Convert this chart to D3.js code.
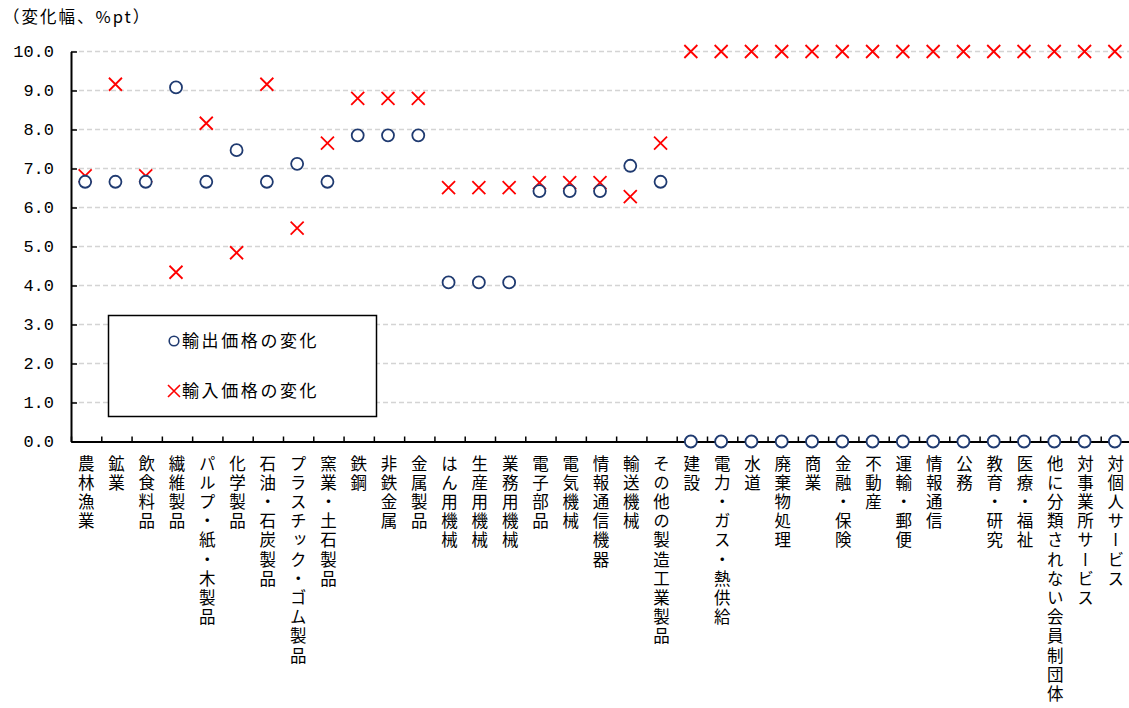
<!DOCTYPE html>
<html>
<head>
<meta charset="utf-8">
<script src="https://cdn.jsdelivr.net/npm/d3@7"></script>
<style>
  html, body { margin: 0; padding: 0; background: #fff; }
  svg { display: block; font-family: "Noto Sans CJK JP", "Noto Sans", sans-serif; }
</style>
</head>
<body>
<svg id="chart" width="1129" height="708"></svg>
<script>
// Industry sectors (x categories)
const categories = [
  "農林漁業", "鉱業", "飲食料品", "繊維製品", "パルプ・紙・木製品", "化学製品",
  "石油・石炭製品", "プラスチック・ゴム製品", "窯業・土石製品", "鉄鋼", "非鉄金属",
  "金属製品", "はん用機械", "生産用機械", "業務用機械", "電子部品", "電気機械",
  "情報通信機器", "輸送機械", "その他の製造工業製品", "建設", "電力・ガス・熱供給",
  "水道", "廃棄物処理", "商業", "金融・保険", "不動産", "運輸・郵便", "情報通信",
  "公務", "教育・研究", "医療・福祉", "他に分類されない会員制団体", "対事業所サービス",
  "対個人サービス"
];

// Change due to export prices (%pt)
const exportChange = [
  6.66, 6.66, 6.66, 9.08, 6.66, 7.47, 6.66, 7.12, 6.66, 7.85, 7.85, 7.85,
  4.08, 4.08, 4.08, 6.42, 6.42, 6.42, 7.07, 6.66,
  0, 0, 0, 0, 0, 0, 0, 0, 0, 0, 0, 0, 0, 0, 0
];

// Change due to import prices (%pt)
const importChange = [
  6.81, 9.16, 6.81, 4.34, 8.16, 4.84, 9.16, 5.47, 7.65, 8.80, 8.80, 8.80,
  6.51, 6.51, 6.51, 6.64, 6.64, 6.64, 6.28, 7.65,
  10, 10, 10, 10, 10, 10, 10, 10, 10, 10, 10, 10, 10, 10, 10
];

const yTicks = [0, 1, 2, 3, 4, 5, 6, 7, 8, 9, 10];
const seriesNames = ["輸出価格の変化", "輸入価格の変化"];
const yTitle = "（変化幅、%pt）";

const svg = d3.select("#chart");
const plotLeft = 71, plotRight = 1131, plotTop = 51.5, plotBottom = 441.5;

const x = d3.scaleBand().domain(categories).range([plotLeft, plotRight]).paddingInner(0).paddingOuter(0);
const y = d3.scaleLinear().domain([0, 10]).range([plotBottom, plotTop]);

// Horizontal dashed gridlines
svg.append("g")
  .selectAll("line")
  .data(yTicks.filter(d => d > 0))
  .join("line")
  .attr("x1", plotLeft).attr("x2", 1129)
  .attr("y1", d => y(d)).attr("y2", d => y(d))
  .attr("stroke", "#d4d4d4")
  .attr("stroke-width", 1.3)
  .attr("stroke-dasharray", "5,3");

// Y axis
const yAxis = svg.append("g")
  .attr("transform", `translate(${plotLeft},0)`)
  .call(d3.axisLeft(y).tickValues(yTicks).tickFormat(d3.format(".1f")).tickSizeInner(-6).tickSizeOuter(0).tickPadding(17));
yAxis.select(".domain").attr("stroke", "#000").attr("stroke-width", 2);
yAxis.selectAll(".tick line").attr("stroke", "#000").attr("stroke-width", 1.5);
yAxis.selectAll(".tick text")
  .attr("font-family", "'Liberation Mono', 'DejaVu Sans Mono', monospace")
  .attr("font-size", 17)
  .attr("fill", "#000");

// X axis with ticks on category boundaries
const xb = d3.scaleLinear().domain([0, categories.length]).range([plotLeft, plotRight]);
const xAxis = svg.append("g")
  .attr("transform", `translate(0,${plotBottom})`)
  .call(d3.axisBottom(xb).tickValues(d3.range(0, categories.length + 1)).tickFormat("").tickSizeInner(-5).tickSizeOuter(0));
xAxis.select(".domain").attr("stroke", "#000").attr("stroke-width", 2);
xAxis.selectAll(".tick line").attr("stroke", "#000").attr("stroke-width", 1.5);

// Vertical category labels
svg.append("g")
  .selectAll("text")
  .data(categories)
  .join("text")
  .attr("x", d => x(d) + x.bandwidth() / 2)
  .attr("y", 455)
  .style("writing-mode", "vertical-rl")
  .attr("font-size", 16.5)
  .attr("letter-spacing", "2.7px")
  .attr("fill", "#000")
  .text(d => d);

const crossPath = s => `M${-s},${-s}L${s},${s}M${-s},${s}L${s},${-s}`;

// Import markers (crosses)
svg.append("g")
  .selectAll("path")
  .data(categories)
  .join("path")
  .attr("transform", (d, i) => `translate(${x(d) + x.bandwidth() / 2 - 1},${y(importChange[i])})`)
  .attr("d", crossPath(6.5))
  .attr("stroke", "#ff0000")
  .attr("stroke-width", 1.8)
  .attr("fill", "none");

// Export markers (circles)
svg.append("g")
  .selectAll("circle")
  .data(categories)
  .join("circle")
  .attr("cx", d => x(d) + x.bandwidth() / 2 - 1)
  .attr("cy", (d, i) => y(exportChange[i]))
  .attr("r", 6)
  .attr("stroke", "#1f3a70")
  .attr("stroke-width", 1.8)
  .attr("fill", "#fff");

// Y axis title
svg.append("text")
  .attr("x", 3).attr("y", 23)
  .attr("font-size", 16.5)
  .attr("letter-spacing", "2px")
  .attr("fill", "#000")
  .text(yTitle);

// Legend
const legend = svg.append("g");
legend.append("rect")
  .attr("x", 108.5).attr("y", 315.5).attr("width", 268).attr("height", 101)
  .attr("fill", "#fff").attr("stroke", "#000").attr("stroke-width", 1.5);
legend.append("circle")
  .attr("cx", 174).attr("cy", 341).attr("r", 4.8)
  .attr("fill", "#fff").attr("stroke", "#1f3a70").attr("stroke-width", 1.6);
legend.append("path")
  .attr("transform", "translate(174,391)")
  .attr("d", crossPath(6))
  .attr("stroke", "#ff0000").attr("stroke-width", 1.6).attr("fill", "none");
legend.selectAll("text.lg")
  .data(seriesNames)
  .join("text")
  .attr("class", "lg")
  .attr("x", 182)
  .attr("y", (d, i) => 347 + i * 50)
  .attr("font-size", 17)
  .attr("letter-spacing", "2.6px")
  .attr("fill", "#000")
  .text(d => d);
</script>
</body>
</html>
